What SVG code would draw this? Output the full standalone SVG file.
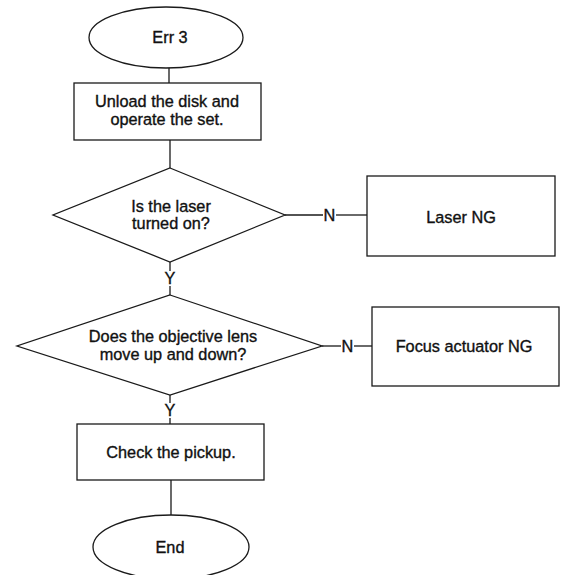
<svg xmlns="http://www.w3.org/2000/svg" width="561" height="575" viewBox="0 0 561 575">
<style>
.s{fill:#fff;stroke:#1a1a1a;stroke-width:1.3}
.c{fill:none;stroke:#1a1a1a;stroke-width:1.3}
text{font-family:"Liberation Sans",Arial,sans-serif;font-size:16.3px;fill:#111;stroke:#111;stroke-width:0.35;text-anchor:middle}
</style>
<rect width="561" height="575" fill="#fff"/>
<g id="connectors">
<line class="c" x1="169" y1="68" x2="169" y2="83"/>
<line class="c" x1="170" y1="140" x2="170" y2="168"/>
<line class="c" x1="170" y1="262" x2="170" y2="271"/>
<line class="c" x1="170" y1="286" x2="170" y2="295"/>
<line class="c" x1="285" y1="215" x2="323" y2="215"/>
<line class="c" x1="336" y1="215" x2="367" y2="215"/>
<line class="c" x1="170" y1="395" x2="170" y2="403"/>
<line class="c" x1="170" y1="418" x2="170" y2="424"/>
<line class="c" x1="322" y1="346" x2="341" y2="346"/>
<line class="c" x1="354" y1="346" x2="372" y2="346"/>
<line class="c" x1="171" y1="480" x2="171" y2="515"/>
<text x="170" y="284">Y</text>
<text x="170" y="416">Y</text>
<text x="329.5" y="220.5">N</text>
<text x="347.5" y="351.5">N</text>
</g>
<g id="start">
<ellipse class="s" cx="166" cy="37.5" rx="77" ry="30.5"/>
<text x="170" y="43">Err 3</text>
</g>
<g id="unload">
<rect class="s" x="74" y="83" width="187" height="57"/>
<text x="167" y="107">Unload the disk and</text>
<text x="167" y="125">operate the set.</text>
</g>
<g id="laser-on">
<polygon class="s" points="170,168 285,215 170,262 53,215"/>
<text x="171" y="212">Is the laser</text>
<text x="171" y="229">turned on?</text>
</g>
<g id="laser-ng">
<rect class="s" x="367" y="176" width="188" height="80"/>
<text x="461" y="222.5">Laser NG</text>
</g>
<g id="lens-move">
<polygon class="s" points="170,295 322,346 170,395 17,346"/>
<text x="173" y="342">Does the objective lens</text>
<text x="173" y="360">move up and down?</text>
</g>
<g id="focus-ng">
<rect class="s" x="372" y="307" width="187" height="79"/>
<text x="464" y="351.5">Focus actuator NG</text>
</g>
<g id="pickup">
<rect class="s" x="77" y="424" width="187" height="56"/>
<text x="171" y="457.5">Check the pickup.</text>
</g>
<g id="end">
<ellipse class="s" cx="171" cy="547" rx="78" ry="32"/>
<text x="170" y="552.5">End</text>
</g>
</svg>
